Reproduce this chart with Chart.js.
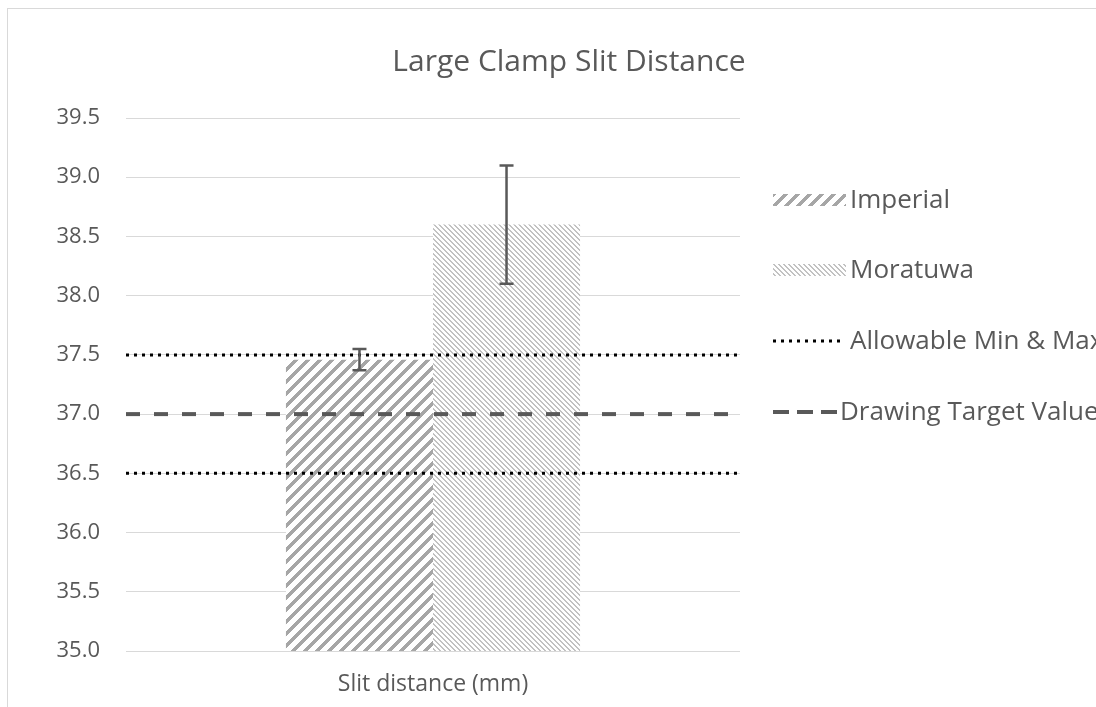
<!DOCTYPE html>
<html>
<head>
<meta charset="utf-8">
<script src="https://cdn.jsdelivr.net/npm/chart.js@4.4.1/dist/chart.umd.min.js"></script>
<style>
    html, body { margin: 0; padding: 0; background: #fff; width: 1096px; height: 707px; overflow: hidden; }
    #frame { position: absolute; left: 7px; top: 8px; width: 1130px; height: 720px; border-left: 1px solid #d9d9d9; border-top: 1px solid #d9d9d9; }
    #wrap { position: absolute; left: 8px; top: 9px; width: 1122px; height: 698px; }
</style>
</head>
<body>
<div id="frame"></div>
<div id="wrap"><canvas id="chart"></canvas></div>
<script>
// Chart data.
const categories    = ["Slit distance (mm)"];
const imperialMean  = [37.46];
const imperialErr   = [0.09];
const moratuwaMean  = [38.6];
const moratuwaErr   = [0.5];
const allowableMin  = [36.5, 36.5];
const allowableMax  = [37.5, 37.5];
const targetValue   = [37.0, 37.0];
const lineSpan      = [-0.5, 0.5];   // reference lines run across the whole category slot
const legendLabels  = ["Imperial", "Moratuwa", "Allowable Min & Max", "Drawing Target Value"];

const TEXT_COLOR = "#595959";
const FONT = "'Open Sans', 'DejaVu Sans', sans-serif";

// Build a small tile with 45 degree stripes and turn it into a fill pattern.
function stripe_pattern (period, band, color, forward) {
    const tile = document.createElement("canvas");
    tile.width = period;
    tile.height = period;
    const tctx = tile.getContext("2d");
    tctx.fillStyle = "#ffffff";
    tctx.fillRect(0, 0, period, period);
    tctx.fillStyle = color;
    for (let x = 0; x < period; x++) {
        for (let y = 0; y < period; y++) {
            const k = forward ? (x + y) : (x - y + period * 4);
            if (k % period < band) tctx.fillRect(x, y, 1, 1);
        }
    }
    return document.createElement("canvas").getContext("2d").createPattern(tile, "repeat");
}

const imperialFill = stripe_pattern(12, 5, "#a6a6a6", true);
const moratuwaFill = stripe_pattern(5, 2, "#c2c2c2", false);

// Bars sit at the category index on a single linear x axis, the lines span the slot.
const barPoints  = (vals) => vals.map((v, i) => ({ x: i, y: v }));
const linePoints = (vals) => vals.map((v, i) => ({ x: lineSpan[i], y: v }));

// Draws the error bars on top of the bars, using the y scale.
const errorBars = {
    id: "errorBars",
    afterDatasetsDraw (chart) {
        const ctx = chart.ctx;
        const yScale = chart.scales.y;
        const sets = [[0, imperialMean, imperialErr], [1, moratuwaMean, moratuwaErr]];
        ctx.save();
        ctx.strokeStyle = TEXT_COLOR;
        ctx.lineWidth = 2.5;
        for (const [di, means, errs] of sets) {
            const meta = chart.getDatasetMeta(di);
            meta.data.forEach((bar, i) => {
                const top = yScale.getPixelForValue(means[i] + errs[i]);
                const bot = yScale.getPixelForValue(means[i] - errs[i]);
                const x = bar.x;
                ctx.beginPath();
                ctx.moveTo(x, top); ctx.lineTo(x, bot);
                ctx.moveTo(x - 7, top); ctx.lineTo(x + 7, top);
                ctx.moveTo(x - 7, bot); ctx.lineTo(x + 7, bot);
                ctx.stroke();
            });
        }
        ctx.restore();
    }
};

// Legend drawn in the space kept free on the right side.
const sideLegend = {
    id: "sideLegend",
    afterDraw (chart) {
        const ctx = chart.ctx;
        const x0 = 765, x1 = 838;
        const rows = [191, 261, 332, 403];
        const textX = [842, 842, 842, 832];
        ctx.save();
        // bar samples
        ctx.fillStyle = imperialFill;
        ctx.fillRect(x0, rows[0] - 6, x1 - x0, 12);
        ctx.fillStyle = moratuwaFill;
        ctx.fillRect(x0, rows[1] - 6, x1 - x0, 12);
        // dotted line sample
        ctx.strokeStyle = "#000000";
        ctx.lineWidth = 3;
        ctx.setLineDash([3, 5]);
        ctx.beginPath(); ctx.moveTo(x0, rows[2]); ctx.lineTo(x1 - 4, rows[2]); ctx.stroke();
        // dashed line sample
        ctx.strokeStyle = TEXT_COLOR;
        ctx.lineWidth = 4;
        ctx.setLineDash([16, 8]);
        ctx.beginPath(); ctx.moveTo(x0, rows[3]); ctx.lineTo(x0 + 64, rows[3]); ctx.stroke();
        ctx.setLineDash([]);
        // labels
        ctx.fillStyle = TEXT_COLOR;
        ctx.font = "26px " + FONT;
        ctx.textBaseline = "middle";
        ctx.textAlign = "left";
        legendLabels.forEach((label, i) => ctx.fillText(label, textX[i], rows[i] + 1));
        ctx.restore();
    }
};

new Chart(document.getElementById("chart"), {
    type: "bar",
    data: {
        datasets: [
            { label: legendLabels[0], data: barPoints(imperialMean), backgroundColor: imperialFill, borderWidth: 0,
              categoryPercentage: 0.479, barPercentage: 1.0, order: 3 },
            { label: legendLabels[1], data: barPoints(moratuwaMean), backgroundColor: moratuwaFill, borderWidth: 0,
              categoryPercentage: 0.479, barPercentage: 1.0, order: 3 },
            { type: "line", label: legendLabels[2], data: linePoints(allowableMax),
              borderColor: "#000000", borderWidth: 3, borderDash: [3, 5], pointRadius: 0, order: 1 },
            { type: "line", label: legendLabels[2], data: linePoints(allowableMin),
              borderColor: "#000000", borderWidth: 3, borderDash: [3, 5], pointRadius: 0, order: 1 },
            { type: "line", label: legendLabels[3], data: linePoints(targetValue),
              borderColor: TEXT_COLOR, borderWidth: 4, borderDash: [14, 14], pointRadius: 0, order: 1 }
        ]
    },
    options: {
        responsive: true,
        maintainAspectRatio: false,
        animation: false,
        layout: { padding: 0 },
        plugins: {
            legend: { display: false },
            tooltip: { enabled: false },
            title: {
                display: true,
                text: "Large Clamp Slit Distance",
                color: TEXT_COLOR,
                font: { family: FONT, size: 30, weight: "normal" },
                padding: { top: 35, bottom: 38 }
            }
        },
        scales: {
            x: {
                type: "linear",
                min: lineSpan[0],
                max: lineSpan[1],
                offset: false,
                grid: { display: false, drawTicks: false },
                border: { display: false },
                afterBuildTicks (s) { s.ticks = categories.map((c, i) => ({ value: i })); },
                ticks: {
                    color: TEXT_COLOR,
                    font: { family: FONT, size: 23 },
                    padding: 20,
                    callback: (v) => categories[v]
                },
                afterFit (s) { s.height = 56; }
            },
            y: {
                min: 35,
                max: 39.5,
                grid: { color: "#d9d9d9", lineWidth: 1, drawTicks: false },
                border: { display: false },
                ticks: {
                    stepSize: 0.5,
                    color: TEXT_COLOR,
                    font: { family: FONT, size: 22 },
                    padding: 26,
                    callback: (v) => Number(v).toFixed(1)
                },
                afterFit (s) { s.width = 118; }
            },
            // empty right axis only keeps room for the legend
            yRight: {
                type: "linear",
                position: "right",
                min: 0,
                max: 1,
                grid: { display: false, drawTicks: false },
                border: { display: false },
                ticks: { display: false },
                afterFit (s) { s.width = 390; }
            }
        }
    },
    plugins: [errorBars, sideLegend]
});
</script>
</body>
</html>
